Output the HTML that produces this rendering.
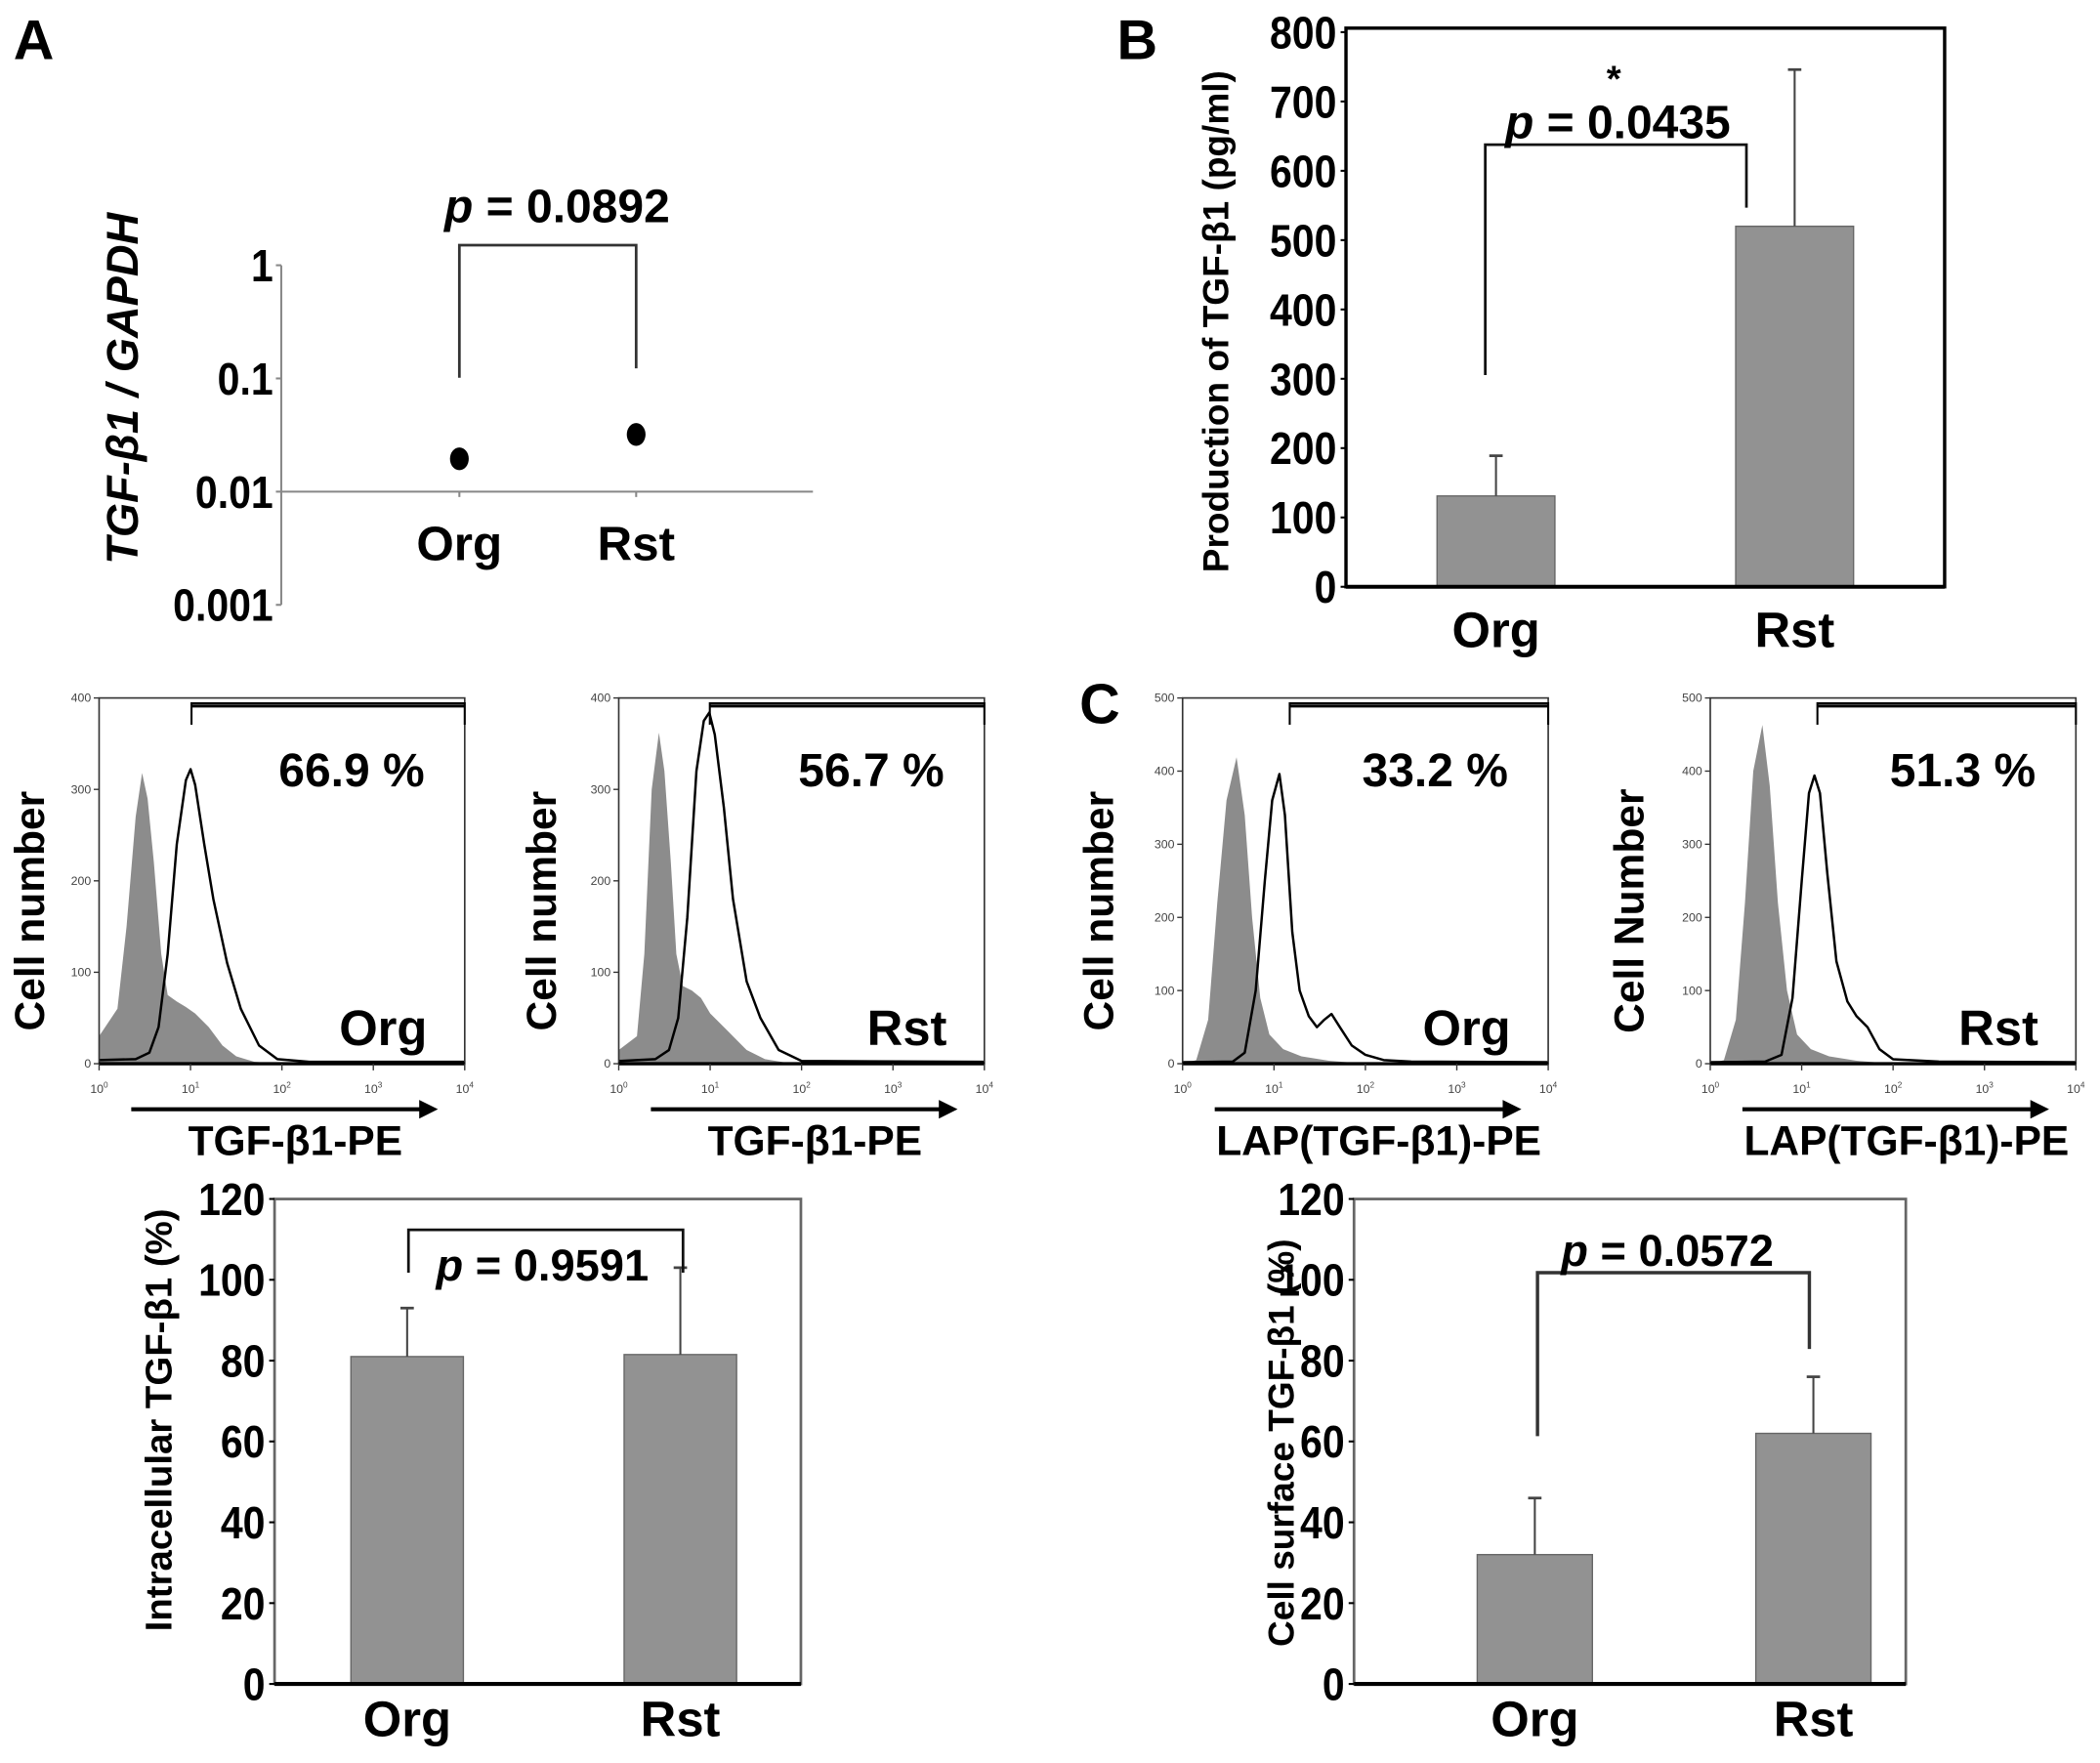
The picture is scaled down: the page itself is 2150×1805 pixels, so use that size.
<!DOCTYPE html>
<html><head><meta charset="utf-8"><style>
html,body{margin:0;padding:0;background:#fff;}
svg{display:block;}
text{font-family:"Liberation Sans",sans-serif;font-weight:bold;fill:#000;}
.tiny{font-family:"Liberation Sans",sans-serif;font-weight:normal;font-size:9px;fill:#444;}
</style></head><body>
<svg id="fig" width="2150" height="1805" viewBox="0 0 1568 1316" preserveAspectRatio="none" xmlns="http://www.w3.org/2000/svg">
<text x="10" y="44" font-size="42" class="w">A</text>
<text x="834" y="44" font-size="42" class="w">B</text>
<text x="806" y="540" font-size="42" class="w">C</text>
</svg>
<script>
// ---- Panel A data ----
const aCats = ['Org', 'Rst'];
const aValues = [0.0195, 0.032];
const aTicks = [1, 0.1, 0.01, 0.001];
const aTickLabels = ['1', '0.1', '0.01', '0.001'];
// ---- Panel B data ----
const bCats = ['Org', 'Rst'];
const bValues = [131, 520];
const bErrors = [58, 226];
const bTicks = [0, 100, 200, 300, 400, 500, 600, 700, 800];
// ---- Intracellular chart ----
const dCats = ['Org', 'Rst'];
const dValues = [81, 81.5];
const dErrors = [12, 21.5];
const dTicks = [0, 20, 40, 60, 80, 100, 120];
// ---- Cell surface chart ----
const eCats = ['Org', 'Rst'];
const eValues = [32, 62];
const eErrors = [14, 14];
const eTicks = [0, 20, 40, 60, 80, 100, 120];
// ---- Histograms: [log10 fluorescence, count] ----
const h1Gray = [[0,30],[0.2,60],[0.3,150],[0.4,270],[0.47,318],[0.53,290],[0.6,220],[0.68,120],[0.75,75],[0.85,68],[0.95,62],[1.05,55],[1.2,40],[1.35,20],[1.5,8],[1.7,2],[2,0],[4,0]];
const h1Line = [[0,4],[0.4,5],[0.55,12],[0.65,40],[0.75,120],[0.85,240],[0.95,310],[1.0,322],[1.05,305],[1.15,240],[1.25,180],[1.4,110],[1.55,60],[1.75,20],[1.95,5],[2.3,2],[4,2]];
const h2Gray = [[0,15],[0.2,30],[0.28,120],[0.36,300],[0.44,362],[0.5,320],[0.57,220],[0.63,120],[0.7,85],[0.8,80],[0.9,72],[1.0,55],[1.2,35],[1.4,15],[1.6,5],[1.9,0],[4,0]];
const h2Line = [[0,3],[0.4,5],[0.55,15],[0.65,50],[0.75,160],[0.85,320],[0.93,375],[0.99,384],[1.05,360],[1.15,280],[1.25,180],[1.4,90],[1.55,50],[1.75,15],[2.0,3],[4,2]];
const h3Gray = [[0,0],[0.15,5],[0.28,60],[0.38,220],[0.48,360],[0.59,419],[0.68,340],[0.76,200],[0.85,90],[0.95,40],[1.1,20],[1.3,10],[1.6,4],[2,0],[4,0]];
const h3Line = [[0,2],[0.55,3],[0.68,15],[0.8,100],[0.9,250],[0.98,360],[1.06,396],[1.12,340],[1.2,180],[1.28,100],[1.38,65],[1.47,50],[1.55,60],[1.63,68],[1.72,50],[1.85,25],[2.0,12],[2.2,5],[2.5,3],[4,2]];
const h4Gray = [[0,0],[0.15,5],[0.28,60],[0.38,220],[0.47,400],[0.57,463],[0.65,380],[0.74,220],[0.84,100],[0.95,40],[1.1,20],[1.3,10],[1.6,4],[2,0],[4,0]];
const h4Line = [[0,2],[0.6,3],[0.78,12],[0.9,90],[1.0,250],[1.08,370],[1.14,394],[1.2,370],[1.28,260],[1.38,140],[1.5,85],[1.6,65],[1.72,50],[1.85,20],[2.0,6],[2.5,3],[4,2]];
const histPercents = ['66.9 %', '56.7 %', '33.2 %', '51.3 %'];
const histGroups = ['Org', 'Rst', 'Org', 'Rst'];

const NS = 'http://www.w3.org/2000/svg';
const svg = document.getElementById('fig');
function mk(tag, attrs, parent) {
  const e = document.createElementNS(NS, tag);
  for (const k in attrs) e.setAttribute(k, attrs[k]);
  (parent || svg).appendChild(e);
  return e;
}
function txt(x, y, s, size, anchor, extra) {
  const t = mk('text', Object.assign({x: x, y: y, 'font-size': size, 'text-anchor': anchor || 'middle'}, extra || {}));
  t.textContent = s;
  return t;
}
function ptext(x, y, val, size) {
  const t = mk('text', {x: x, y: y, 'font-size': size, 'text-anchor': 'middle'});
  const a = document.createElementNS(NS, 'tspan'); a.setAttribute('font-style', 'italic'); a.textContent = 'p';
  const b = document.createElementNS(NS, 'tspan'); b.textContent = ' = ' + val;
  t.appendChild(a); t.appendChild(b);
  return t;
}
function line(x1, y1, x2, y2, c, w) { return mk('line', {x1: x1, y1: y1, x2: x2, y2: y2, stroke: c, 'stroke-width': w}); }

// ===== Panel A =====
const yA = v => 367 - (Math.log10(v) + 2) * 84.5;
const xA = i => 343 + i * 132;
let e;
e = line(210, yA(1), 210, yA(0.001), '#888', 1.5);
 
e = line(210, yA(0.01), 607, yA(0.01), '#888', 1.5);
 
aTicks.forEach((t, i) => {
  line(206, yA(t), 210, yA(t), '#888', 1.5);
  e = txt(204, yA(t) + 12, aTickLabels[i], 34, 'end', {class: 'n'});
   
});
aCats.forEach((c, i) => {
  line(xA(i), yA(0.01), xA(i), yA(0.01) + 4, '#888', 1.5);
  e = txt(xA(i), 418, c, 36);
   
  e = mk('ellipse', {cx: xA(i), cy: yA(aValues[i]), rx: 7, ry: 8.5, fill: '#000'});
   
});
e = mk('path', {d: `M${xA(0)},282 V183 H${xA(1)} V275`, fill: 'none', stroke: '#333', 'stroke-width': 2});
 
e = ptext(416, 166, '0.0892', 35);
 
e = txt(0, 0, 'TGF-β1 / GAPDH', 33, 'middle', {transform: 'translate(103,290) rotate(-90)', 'font-style': 'italic'});
 

// ===== Bar chart helper =====
function barChart(o) {
  const y = v => o.y0 - v * o.k;
  const g = mk('g', {});
   
  o.values.forEach((v, i) => {
    const x = o.barX[i];
    const r = mk('rect', {x: x, y: y(v), width: o.bw, height: o.y0 - y(v), fill: '#929292', stroke: '#666', 'stroke-width': 1}, g);
     
    const cx = x + o.bw / 2;
    const eb = line(cx, y(v), cx, y(v + o.errors[i]), '#444', 1.5);
     
    line(cx - 5, y(v + o.errors[i]), cx + 5, y(v + o.errors[i]), '#444', 2);
    const lb = txt(cx, o.labelY, o.cats[i], 37);
     
  });
  o.ticks.forEach(t => {
    line(o.x0 - 4, y(t), o.x0, y(t), '#000', 1.5);
    const tl = txt(o.x0 - 7, y(t) + 12, String(t), 34, 'end', {class: 'n'});
     
  });
  return y;
}

// ===== Panel B =====
mk('rect', {x: 1005, y: 21, width: 447, height: 417, fill: 'none', stroke: '#000', 'stroke-width': 2.5});
const yB = barChart({name: 'b-bar-chart', cats: bCats, values: bValues, errors: bErrors, ticks: bTicks, y0: 438, k: 0.5175, barX: [1073, 1296], bw: 88, x0: 1005, labelY: 483});
line(1005, 438, 1452, 438, '#000', 3);
e = mk('path', {d: 'M1109,280 V108 H1304 V155', fill: 'none', stroke: '#111', 'stroke-width': 2});
 
e = ptext(1208, 103, '0.0435', 35);
 
e = txt(1205, 68, '*', 28);
 
e = txt(0, 0, 'Production of TGF-β1 (pg/ml)', 27, 'middle', {transform: 'translate(917,240) rotate(-90)'});
 

// ===== Intracellular =====
mk('rect', {x: 205, y: 895, width: 393, height: 362, fill: 'none', stroke: '#666', 'stroke-width': 2});
barChart({name: 'intracellular-bar-chart', cats: dCats, values: dValues, errors: dErrors, ticks: dTicks, y0: 1257, k: 3.017, barX: [262, 466], bw: 84, x0: 205, labelY: 1296});
line(205, 1257, 598, 1257, '#000', 3);
e = mk('path', {d: 'M305,950 V918 H510 V950', fill: 'none', stroke: '#111', 'stroke-width': 2});
 
e = ptext(405, 956, '0.9591', 33);
 
e = txt(0, 0, 'Intracellular TGF-β1 (%)', 28, 'middle', {transform: 'translate(128,1060) rotate(-90)'});
 

// ===== Cell surface =====
mk('rect', {x: 1011, y: 895, width: 412, height: 362, fill: 'none', stroke: '#666', 'stroke-width': 2});
barChart({name: 'surface-bar-chart', cats: eCats, values: eValues, errors: eErrors, ticks: eTicks, y0: 1257, k: 3.017, barX: [1103, 1311], bw: 86, x0: 1011, labelY: 1296});
line(1011, 1257, 1423, 1257, '#000', 3);
e = mk('path', {d: 'M1148,1072 V950 H1351 V1007', fill: 'none', stroke: '#333', 'stroke-width': 2.5});
 
e = ptext(1245, 945, '0.0572', 33);
 
e = txt(0, 0, 'Cell surface TGF-β1 (%)', 27, 'middle', {transform: 'translate(966,1077) rotate(-90)'});
 

// ===== Histograms =====
const hists = [
  {L: 74, R: 347, max: 400, gate: 143, gray: h1Gray, ln: h1Line, xl: 'TGF-β1-PE', yl: 'Cell number', ylx: 33},
  {L: 462, R: 735, max: 400, gate: 530, gray: h2Gray, ln: h2Line, xl: 'TGF-β1-PE', yl: 'Cell number', ylx: 415},
  {L: 883, R: 1156, max: 500, gate: 963, gray: h3Gray, ln: h3Line, xl: 'LAP(TGF-β1)-PE', yl: 'Cell number', ylx: 831},
  {L: 1277, R: 1550, max: 500, gate: 1357, gray: h4Gray, ln: h4Line, xl: 'LAP(TGF-β1)-PE', yl: 'Cell Number', ylx: 1227}
];
const hTop = 521, hBot = 794;
hists.forEach((h, i) => {
  const g = mk('g', {});
   
  const xs = d => h.L + d * (h.R - h.L) / 4;
  const ys = c => hBot - c * (hBot - hTop) / h.max;
  let d = `M${xs(0)},${hBot} ` + h.gray.map(p => `L${xs(p[0]).toFixed(1)},${ys(p[1]).toFixed(1)}`).join(' ') + ` L${xs(4)},${hBot} Z`;
  const gp = mk('path', {d: d, fill: '#8c8c8c', stroke: 'none'}, g);
   
  d = h.ln.map((p, j) => (j ? 'L' : 'M') + xs(p[0]).toFixed(1) + ',' + ys(p[1]).toFixed(1)).join(' ');
  const lp = mk('path', {d: d, fill: 'none', stroke: '#000', 'stroke-width': 1.8, 'stroke-linejoin': 'round'}, g);
   
  mk('rect', {x: h.L, y: hTop, width: h.R - h.L, height: hBot - hTop, fill: 'none', stroke: '#333', 'stroke-width': 1.2}, g);
  line(h.L, hBot, h.R, hBot, '#000', 2.5);
  mk('path', {d: `M${h.gate},${hTop + 20} V${hTop + 4} H${h.R} V${hTop + 20}`, fill: 'none', stroke: '#000', 'stroke-width': 1.5}, g);
  line(h.gate, hTop + 6, h.R, hTop + 6, '#000', 2.2);
  for (let k = 0; k <= 4; k++) {
    line(xs(k), hBot, xs(k), hBot + 5, '#333', 1);
    const tl = mk('text', {x: xs(k), y: hBot + 22, 'text-anchor': 'middle', class: 'tiny'});
    tl.textContent = '10';
    const sp = document.createElementNS(NS, 'tspan'); sp.setAttribute('dy', '-4'); sp.setAttribute('font-size', '6'); sp.textContent = k; tl.appendChild(sp);
  }
  for (let c = 0; c <= h.max; c += 100) {
    line(h.L - 4, ys(c), h.L, ys(c), '#333', 1);
    const tl = mk('text', {x: h.L - 6, y: ys(c) + 3, 'text-anchor': 'end', class: 'tiny'});
    tl.textContent = String(c);
  }
  const ar = mk('path', {d: `M${h.L + 24},${hBot + 34} H${h.R - 32}`, stroke: '#000', 'stroke-width': 3, fill: 'none'}, g);
  mk('path', {d: `M${h.R - 34},${hBot + 27} L${h.R - 20},${hBot + 34} L${h.R - 34},${hBot + 41} Z`, fill: '#000'}, g);
   
  e = txt((h.L + h.R) / 2 + 10, hBot + 68, h.xl, 31);
   
  e = txt(h.R - 30, 587, histPercents[i], 35, 'end');
   
  e = txt(h.R - 28, 780, histGroups[i], 37, 'end');
   
  e = txt(0, 0, h.yl, 31, 'middle', {transform: `translate(${h.ylx},680) rotate(-90)`});
   
});

// slightly condense tick labels
svg.querySelectorAll('text.n').forEach(t => {
  const w = t.getComputedTextLength();
  t.setAttribute('textLength', (w * 0.88).toFixed(1));
  t.setAttribute('lengthAdjust', 'spacingAndGlyphs');
});
</script>
</body></html>
